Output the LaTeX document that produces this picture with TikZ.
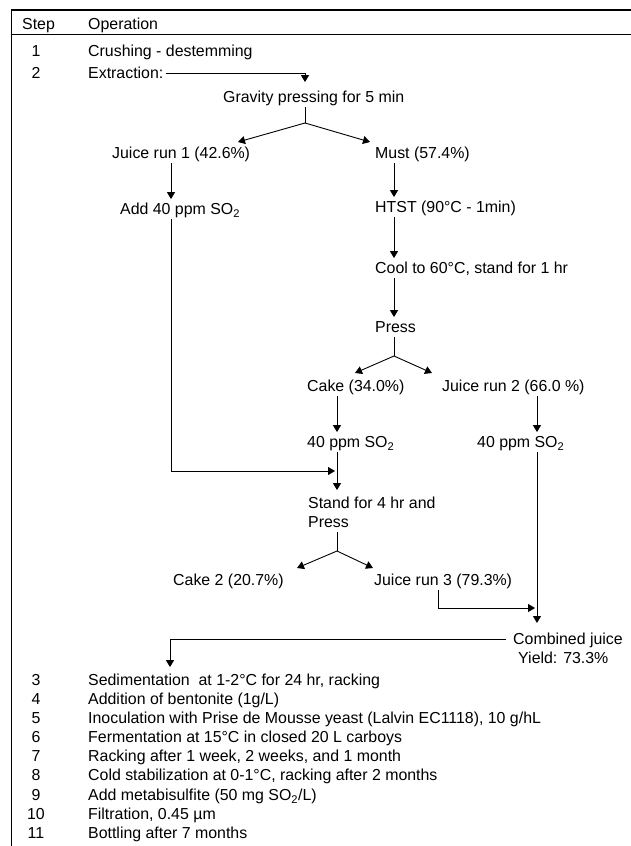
\documentclass[tikz,border=0pt]{standalone}
\usepackage{fontspec}
\setmainfont{Liberation Sans}
\usetikzlibrary{arrows.meta}
\begin{document}
\begin{tikzpicture}[x=1pt,y=-1pt,
  txt/.style={anchor=west, inner xsep=0pt, inner ysep=4pt, text height=11.4pt, text depth=0pt, font=\fontsize{15.9pt}{19pt}\selectfont},
  num/.style={txt, anchor=center},
  ln/.style={line width=0.9pt},
  arr/.style={ln, -{Triangle[length=7pt,width=8pt]}},
  frameline/.style={line width=1.2pt}]
\useasboundingbox (0,0) rectangle (631,846);
\clip (0,0) rectangle (631,846);
% frame
\draw[frameline] (631,10) -- (11.5,10) -- (11.5,846);
\draw[frameline] (11.5,34.5) -- (631,34.5);
% helper columns
\coordinate (cM) at (305,0);
\coordinate (cL) at (171,0);
\coordinate (cR) at (394,0);
\coordinate (cC) at (337,0);
\coordinate (cRR) at (537,0);
\coordinate (cJ3) at (438,0);
\coordinate (cS) at (170,0);
% branch points and arrow tips
\coordinate (bA) at (305,123);
\coordinate (tA1) at (238,142);
\coordinate (tA2) at (370,142);
\coordinate (bB) at (394,356);
\coordinate (tB1) at (355,373);
\coordinate (tB2) at (432,373);
\coordinate (bC) at (337,551);
\coordinate (tC1) at (297,568);
\coordinate (tC2) at (373,568);
\coordinate (mg) at (335,471);
\coordinate (mJ) at (535,608);
\coordinate (cjtip) at (537,623);
% header
\node[txt] (hstep) at (22,24) {Step};
\node[txt] (hop) at (88,24) {Operation};
% rows 1-2
\node[num] (n1) at (36,51) {1};
\node[txt] (crush) at (88,51) {Crushing - destemming};
\node[num] (n2) at (36,73) {2};
\node[txt] (extr) at (88,73) {Extraction:};
% flow
\node[txt] (grav) at (223,97) {Gravity pressing for 5 min};
\node[txt] (jr1) at (112,153) {Juice run 1 (42.6\%)};
\node[txt] (must) at (375,153) {Must (57.4\%)};
\node[txt] (add) at (120,209) {Add 40 ppm SO\textsubscript{2}};
\node[txt] (htst) at (375,207) {HTST (90°C - 1min)};
\node[txt] (cool) at (375,268) {Cool to 60°C, stand for 1 hr};
\node[txt] (press) at (375,327) {Press};
\node[txt] (cake1) at (307,386) {Cake (34.0\%)};
\node[txt] (jr2) at (442,386) {Juice run 2 (66.0 \%)};
\node[txt] (so2l) at (307,442) {40 ppm SO\textsubscript{2}};
\node[txt] (so2r) at (477,442) {40 ppm SO\textsubscript{2}};
\node[txt] (stand) at (308,503) {Stand for 4 hr and};
\node[txt] (press2) at (308,522) {Press};
\node[txt] (cake2) at (173,580) {Cake 2 (20.7\%)};
\node[txt] (jr3) at (374,580) {Juice run 3 (79.3\%)};
\node[txt] (cj) at (513,639) {Combined juice};
\node[txt] (yield) at (518,658) {Yield: 73.3\%};
% bottom list
\node[num] (n3) at (36,680) {3};
\node[txt] (sed) at (88,680) {Sedimentation\ \ at 1-2°C for 24 hr, racking};
\node[num] (n4) at (36,699) {4};
\node[txt] (bent) at (88,699) {Addition of bentonite (1g/L)};
\node[num] (n5) at (36,718) {5};
\node[txt] (inoc) at (88,718) {Inoculation with Prise de Mousse yeast (Lalvin EC1118), 10 g/hL};
\node[num] (n6) at (36,737) {6};
\node[txt] (ferm) at (88,737) {Fermentation at 15°C in closed 20 L carboys};
\node[num] (n7) at (36,756) {7};
\node[txt] (rack) at (88,756) {Racking after 1 week, 2 weeks, and 1 month};
\node[num] (n8) at (36,775) {8};
\node[txt] (cold) at (88,775) {Cold stabilization at 0-1°C, racking after 2 months};
\node[num] (n9) at (36,795) {9};
\node[txt] (meta) at (88,795) {Add metabisulfite (50 mg SO\textsubscript{2}/L)};
\node[num] (n10) at (36,814) {10};
\node[txt] (filt) at (88,814) {Filtration, 0.45 µm};
\node[num] (n11) at (36,833) {11};
\node[txt] (bott) at (88,833) {Bottling after 7 months};
% connectors
\draw[arr, shorten <=2pt, shorten >=5pt] (extr.east) -| (grav.north -| cM);
\draw[ln] (grav.south -| cM) -- (bA);
\draw[arr] (bA) -- (tA1);
\draw[arr] (bA) -- (tA2);
\draw[arr] (jr1.south -| cL) -- (add.north -| cL);
\draw[arr] (must.south -| cR) -- (htst.north -| cR);
\draw[arr] (htst.south -| cR) -- (cool.north -| cR);
\draw[arr] (cool.south -| cR) -- (press.north -| cR);
\draw[ln] (press.south -| cR) -- (bB);
\draw[arr] (bB) -- (tB1);
\draw[arr] (bB) -- (tB2);
\draw[arr] (cake1.south -| cC) -- (so2l.north -| cC);
\draw[arr] (jr2.south -| cRR) -- (so2r.north -| cRR);
\draw[arr] (add.south -| cL) |- (mg);
\draw[arr, shorten >=3pt] (so2l.south -| cC) -- (stand.north -| cC);
\draw[ln] (press2.south -| cC) -- (bC);
\draw[arr] (bC) -- (tC1);
\draw[arr] (bC) -- (tC2);
\draw[arr] (jr3.south -| cJ3) |- (mJ);
\draw[arr] (so2r.south -| cRR) -- (cjtip);
\draw[arr, shorten >=3pt] ([xshift=-7pt]cj.west) -| (sed.north -| cS);
\end{tikzpicture}
\end{document}
